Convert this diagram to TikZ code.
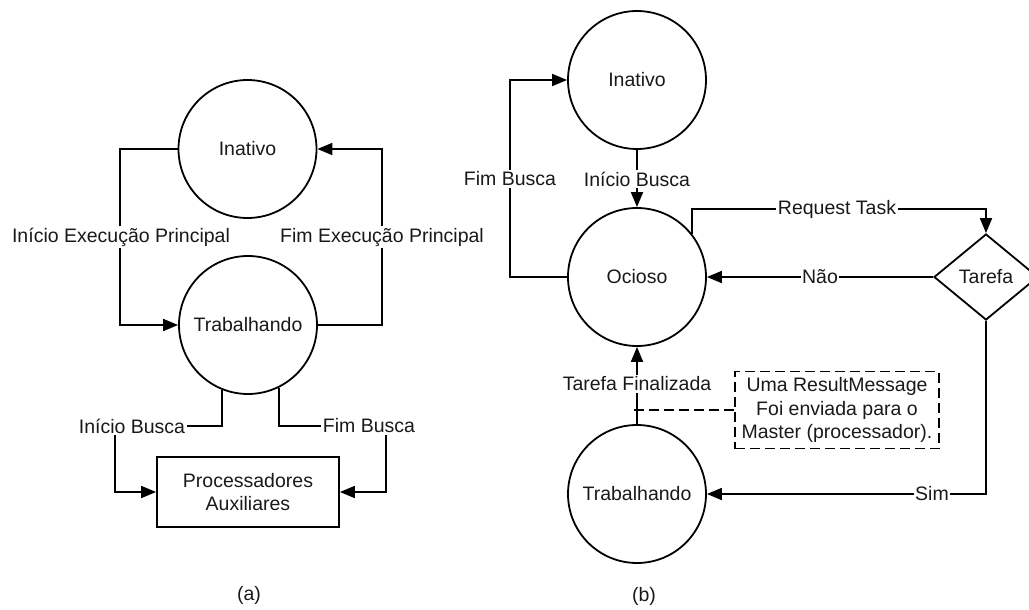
\documentclass[tikz,border=0pt]{standalone}
\usepackage{fontspec}
\setmainfont{Liberation Sans}
\usetikzlibrary{arrows.meta,shapes.geometric,calc}

\tikzset{
  every node/.style={font=\fontsize{19.5}{23.5}\selectfont, text=black!90},
  state/.style={circle, draw, line width=1.8pt, minimum size=138pt, inner sep=0pt},
  procbox/.style={rectangle, draw, line width=1.8pt, minimum width=182pt, minimum height=70pt, align=center, inner sep=0pt},
  decision/.style={diamond, draw, line width=1.8pt, minimum width=104pt, minimum height=86pt, inner sep=0pt},
  notebox/.style={rectangle, draw, line width=1.8pt, dash pattern=on 10pt off 5pt, minimum width=204pt, minimum height=77pt, align=center, inner sep=0pt},
  lbl/.style={fill=white, inner sep=1.5pt},
  conn/.style={line width=1.8pt, -{Triangle[length=15pt,width=12pt]}},
  callout/.style={line width=1.8pt, dash pattern=on 10pt off 5pt},
}

\begin{document}
\begin{tikzpicture}[x=1pt, y=-1pt]
\useasboundingbox (0,0) rectangle (1029,610);

% ---------- (a) ----------
\node[state] (ina) at (247.5,149) {Inativo};
\node[state] (tra) at (248,325) {Trabalhando};
\node[procbox] (proc) at (248,492) {Processadores\\Auxiliares};

\draw[conn] (ina.west) -| (120,237) |- (tra.west);
\node[lbl] (la1) at (121,237) {Início Execução Principal};
\draw[conn] (tra.east) -| (382,237) |- (ina.east);
\node[lbl] (la2) at (382,237) {Fim Execução Principal};

\draw[conn] (tra.248) |- (115,426) |- (proc.west);
\node[lbl] (la3) at (132,426) {Início Busca};
\draw[conn] (tra.296) |- (386,426) |- (proc.east);
\node[lbl] (la4) at (369,426) {Fim Busca};

\node (capa) at (249,595) {(a)};

% ---------- (b) ----------
\node[state] (inb) at (637,80) {Inativo};
\node[state] (oci) at (637,277) {Ocioso};
\node[state] (trb) at (637,494) {Trabalhando};
\node[decision] (taf) at (986,277) {Tarefa};
\node[notebox] (note) at (837,410) {Uma ResultMessage\\Foi enviada para o\\Master (processador).};

\draw[conn] (inb) -- (oci);
\node[lbl] (lb1) at (637,179) {Início Busca};

\draw[conn] (oci.west) -| (510,179) |- (inb.west);
\node[lbl] (lb2) at (510,179) {Fim Busca};

\draw[conn] (oci.38) |- (837,209) -| (taf.north);
\node[lbl] (lb3) at (837,209) {Request Task};

\draw[conn] (taf.west) -- (oci.east);
\node[lbl] (lb4) at (820,277) {Não};

\draw[conn] (taf.south) |- (trb.east);
\node[lbl] (lb5) at (932,494) {Sim};

\draw[conn] (trb) -- (oci);
\node[lbl] (lb6) at (637,384) {Tarefa Finalizada};

\draw[callout] (note.west) -- ($(trb.north |- note.west)+(-3,0)$);

\node (capb) at (644,596) {(b)};
\end{tikzpicture}
\end{document}
